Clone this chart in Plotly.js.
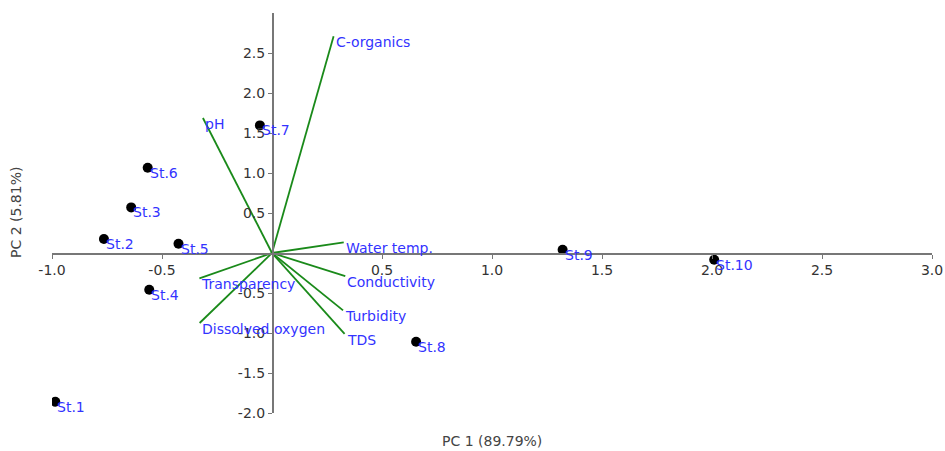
<!DOCTYPE html>
<html>
<head>
<meta charset="utf-8">
<script src="https://cdn.plot.ly/plotly-3.0.1.min.js"></script>
<style>html,body{margin:0;padding:0;background:#fff;}#chart{width:945px;height:451px;}</style>
</head>
<body>
<div id="chart"></div>
<script>
// Station scores
const stations = ["St.1","St.2","St.3","St.4","St.5","St.6","St.7","St.8","St.9","St.10"];
const pc1Scores = [-0.985,-0.764,-0.64,-0.558,-0.425,-0.565,-0.055,0.655,1.321,2.01];
const pc2Scores = [-1.86,0.175,0.57,-0.459,0.116,1.066,1.595,-1.11,0.041,-0.084];

// Variable loadings
const variables = ["C-organics","pH","Water temp.","Conductivity","Turbidity","TDS","Transparency","Dissolved oxygen"];
const pc1Load = [0.28,-0.314,0.326,0.333,0.323,0.33,-0.33,-0.329];
const pc2Load = [2.708,1.6875,0.133,-0.29,-0.717,-1.01,-0.317,-0.875];

// Axis ticks
const xTicks = [-1.0,-0.5,0.5,1.0,1.5,2.0,2.5,3.0];
const yTicks = [-2.0,-1.5,-1.0,-0.5,0.5,1.0,1.5,2.0,2.5];

const FONT = "DejaVu Sans, Verdana, sans-serif";
const LABEL_COLOR = "#3333ff";

const lx = [], ly = [];
variables.forEach((v,i)=>{ lx.push(0, pc1Load[i], null); ly.push(0, pc2Load[i], null); });

const traces = [
  {x: lx, y: ly, mode: "lines", line: {color: "#1a8a1a", width: 1.8}, hoverinfo: "skip", showlegend: false},
  {x: pc1Scores, y: pc2Scores, mode: "markers", marker: {color: "#000", size: 10}, text: stations, showlegend: false}
];

const annotations = [];
variables.forEach((v,i)=>{
  annotations.push({x: pc1Load[i], y: pc2Load[i], text: v, showarrow: false, xanchor: "left", yanchor: "middle",
    xshift: 0, yshift: -6, font: {family: FONT, size: 14, color: LABEL_COLOR}});
});
stations.forEach((s,i)=>{
  annotations.push({x: pc1Scores[i], y: pc2Scores[i], text: s, showarrow: false, xanchor: "left", yanchor: "middle",
    xshift: 0, yshift: -5, font: {family: FONT, size: 14, color: LABEL_COLOR}});
});
annotations.push({xref: "paper", yref: "paper", x: 0.5, y: 0, yshift: -28, xanchor: "center", yanchor: "middle",
  text: "PC 1 (89.79%)", showarrow: false, font: {family: FONT, size: 14, color: "#444"}});
annotations.push({xref: "paper", yref: "paper", x: 0, xshift: -36, y: 0.5, xanchor: "center", yanchor: "middle", textangle: -90,
  text: "PC 2 (5.81%)", showarrow: false, font: {family: FONT, size: 14, color: "#444"}});

const layout = {
  width: 945, height: 451,
  margin: {l: 51.7, r: 13.3, t: 13.3, b: 37.7},
  paper_bgcolor: "#fff", plot_bgcolor: "#fff",
  showlegend: false,
  xaxis: {range: [-1, 3], anchor: "free", position: 0.4, showgrid: false, zeroline: false,
    showline: true, linecolor: "#777", linewidth: 1.5, ticks: "outside", ticklen: 4, tickcolor: "#777",
    tickvals: xTicks, ticktext: xTicks.map(v=>v.toFixed(1)),
    tickfont: {family: FONT, size: 14, color: "#333"}},
  yaxis: {range: [-2, 3], anchor: "free", position: 0.25, showgrid: false, zeroline: false,
    showline: true, linecolor: "#777", linewidth: 1.5, ticks: "outside", ticklen: 4, tickcolor: "#777",
    tickvals: yTicks, ticktext: yTicks.map(v=>v.toFixed(1)),
    tickfont: {family: FONT, size: 14, color: "#333"}},
  annotations: annotations,
  font: {family: FONT}
};

Plotly.newPlot("chart", traces, layout, {displayModeBar: false, staticPlot: true});
</script>
</body>
</html>
